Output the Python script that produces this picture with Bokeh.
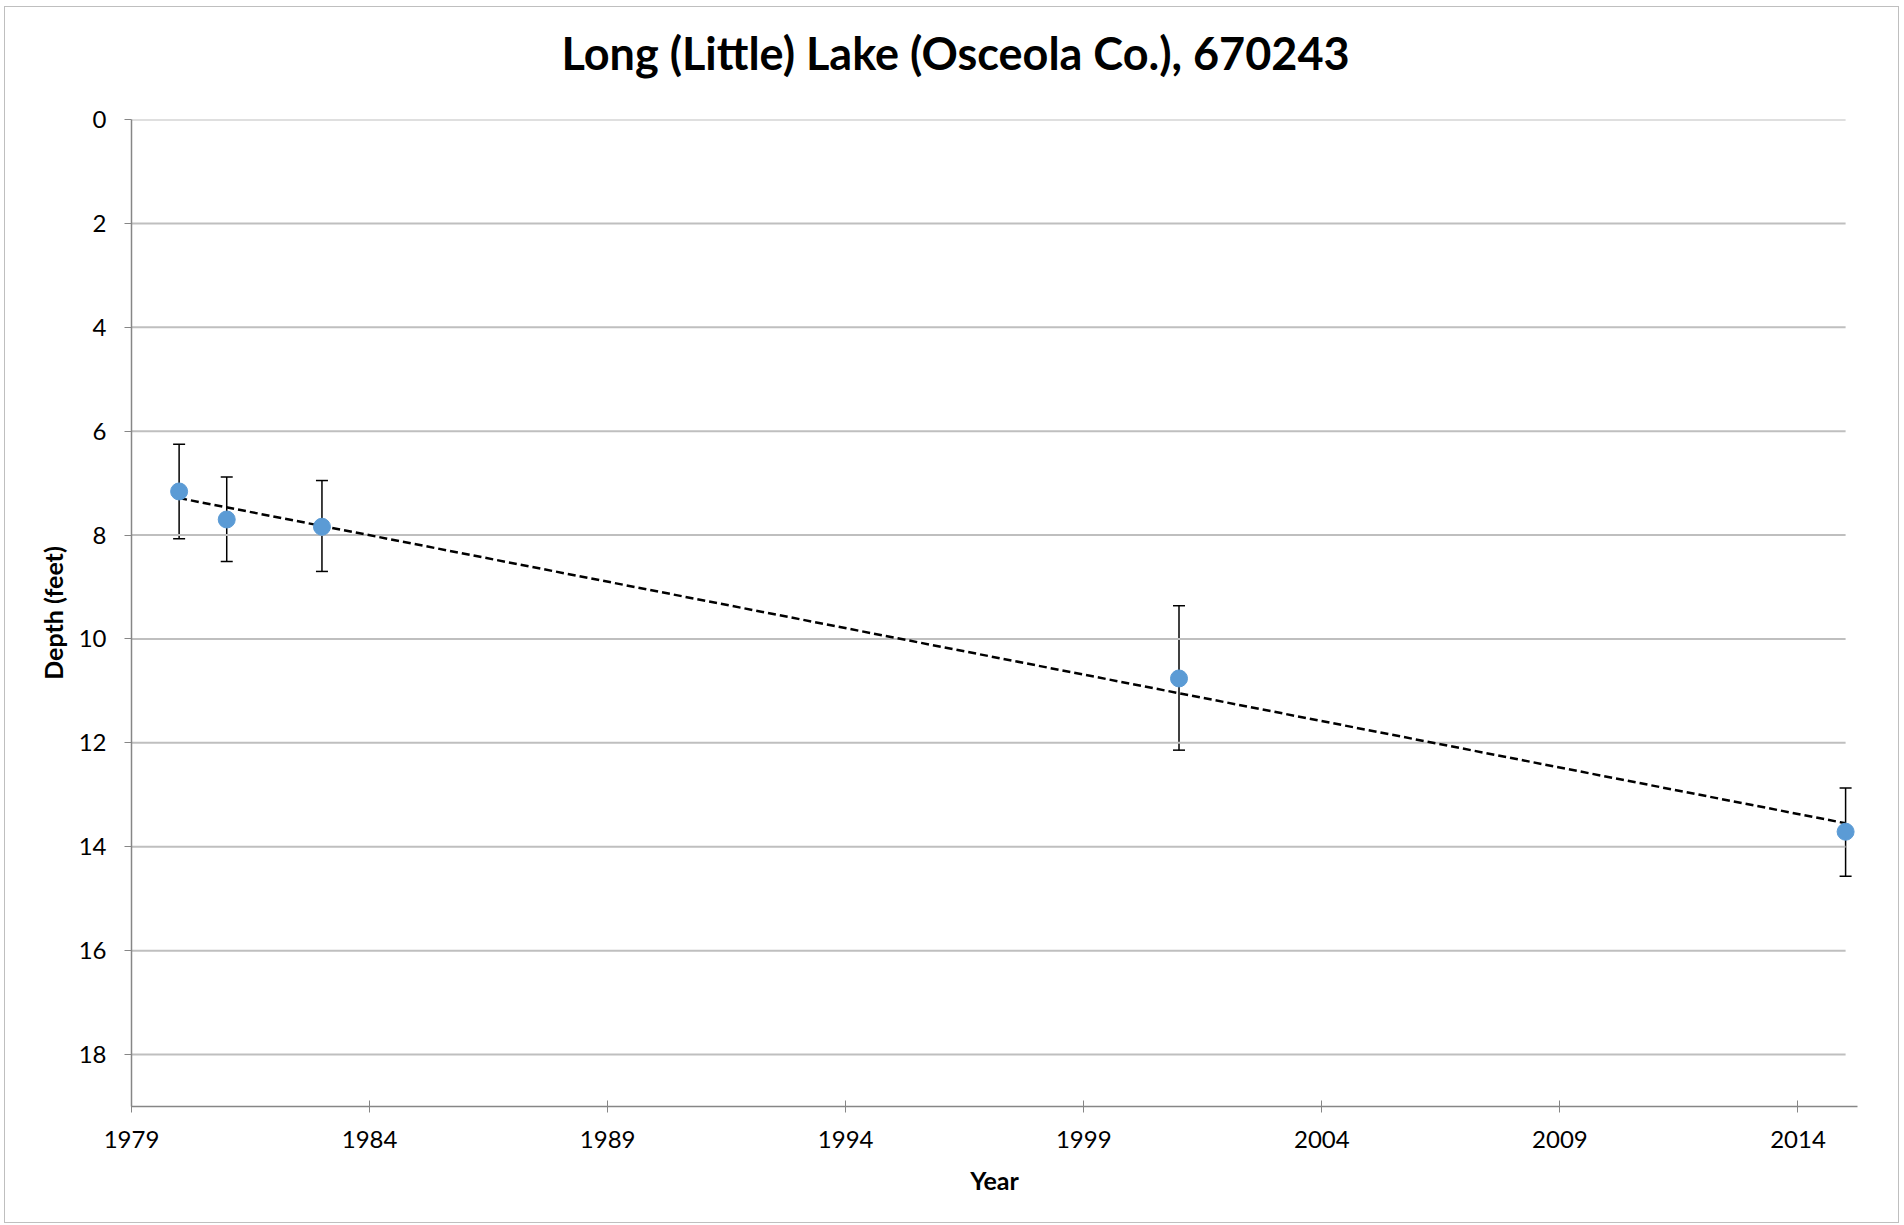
import numpy as np
from bokeh.plotting import figure
from bokeh.models import ColumnDataSource, Whisker, TeeHead, FixedTicker, Range1d, Title
from bokeh.embed import file_html
from bokeh.resources import INLINE

# ---- data ----
years = [1980, 1981, 1983, 2001, 2015]
depth = [7.16, 7.70, 7.84, 10.76, 13.71]
err_low = [6.25, 6.88, 6.95, 9.36, 12.87]
err_high = [8.07, 8.51, 8.70, 12.14, 14.57]
x_ticks = [1979, 1984, 1989, 1994, 1999, 2004, 2009, 2014]
y_ticks = [0, 2, 4, 6, 8, 10, 12, 14, 16, 18]
title_text = "Long (Little) Lake (Osceola Co.), 670243"

X_START, X_END = 1979, 2015

# linear trend (least squares)
slope, intercept = np.polyfit(years, depth, 1)
trend_x = [min(years), max(years)]
trend_y = [slope * v + intercept for v in trend_x]

FONT = "Lato"
AXIS_COL = "#868686"

p = figure(width=1895, height=1217, output_backend="svg", toolbar_location=None,
           x_range=Range1d(X_START, X_END + 0.25), y_range=Range1d(19, 0),
           min_border_left=126, min_border_right=43, min_border_top=112, min_border_bottom=118)
p.styles = {"border": "1px solid #bfbfbf", "box-sizing": "border-box",
            "margin-left": "4px", "margin-top": "6px"}

# spacer between frame and title
spacer = Title(text=" ", text_font_size="1px", standoff=37)
p.add_layout(spacer, "above")

p.title.text = title_text
p.title.text_font = FONT
p.title.text_font_style = "bold"
p.title.text_font_size = "45px"
p.title.align = "left"
p.title.offset = 430
p.title.standoff = 0
p.title.text_color = "black"

p.outline_line_color = None
p.background_fill_color = "white"
p.border_fill_color = "white"

# grid (drawn as segments so that it stops at the last year)
p.xgrid.grid_line_color = None
p.ygrid.grid_line_color = None
p.segment(x0=[X_START] * len(y_ticks), x1=[X_END] * len(y_ticks), y0=y_ticks, y1=y_ticks,
          line_color="#bfbfbf", line_width=2)

# axes
p.xaxis.ticker = FixedTicker(ticks=x_ticks)
p.yaxis.ticker = FixedTicker(ticks=y_ticks)
for ax in (p.xaxis[0], p.yaxis[0]):
    ax.axis_line_color = AXIS_COL
    ax.axis_line_width = 1.5
    ax.major_tick_line_color = AXIS_COL
    ax.major_tick_line_width = 1
    ax.minor_tick_line_color = None
    ax.major_label_text_font = FONT
    ax.major_label_text_font_size = "24px"
    ax.major_label_text_color = "black"
    ax.axis_label_text_font = FONT
    ax.axis_label_text_font_style = "bold"
    ax.axis_label_text_font_size = "25px"
    ax.axis_label_text_color = "black"

p.xaxis.major_tick_in = 6
p.xaxis.major_tick_out = 6
p.xaxis.major_label_standoff = 18
p.xaxis.axis_label = "Year"
p.xaxis.axis_label_standoff = 14

p.yaxis.major_tick_in = 0
p.yaxis.major_tick_out = 7
p.yaxis.major_label_standoff = 18
p.yaxis.axis_label = "Depth (feet)"
p.yaxis.axis_label_standoff = 8

src = ColumnDataSource(dict(x=years, y=depth, lo=err_low, hi=err_high))

# trend line
p.line(trend_x, trend_y, line_color="black", line_width=2.5, line_dash="8 4")

# error bars
w = Whisker(source=src, base="x", lower="lo", upper="hi", line_color="black", line_width=1.5,
            upper_head=TeeHead(size=12, line_color="black", line_width=1.5),
            lower_head=TeeHead(size=12, line_color="black", line_width=1.5))
p.add_layout(w)

# points
p.scatter("x", "y", source=src, size=17, fill_color="#5b9bd5", line_color="#5b9bd5")

open("out.html", "w").write(file_html(p, INLINE))
